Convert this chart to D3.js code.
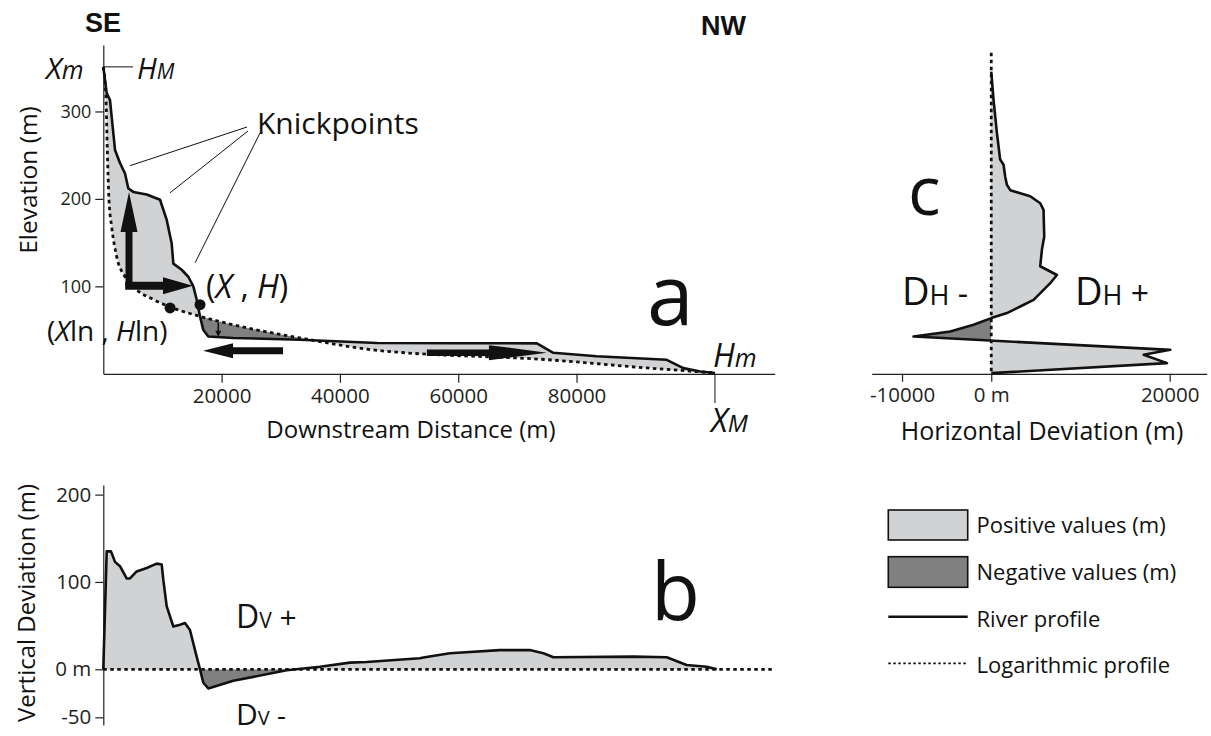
<!DOCTYPE html>
<html><head><meta charset="utf-8">
<script src="https://cdn.jsdelivr.net/npm/d3@7"></script>
<style>
html,body{margin:0;padding:0;background:#fff;}
svg{display:block;font-family:"Open Sans",sans-serif;}
</style></head><body>
<svg id="chart" width="1211" height="736"></svg>
<script>
// ---------------- DATA ----------------
// Panel a: river longitudinal profile (downstream distance m, elevation m)
const riverDist = [0,575,1130,1980,2820,3670,4230,5070,7340,9590,10720,11560,11840,13250,14370,15220,15780,16350,16910,17750,21980,33250,46250,60000,73300,76070,83400,95250,98050,100900,103400];
const riverElev = [351,321,313,256,241,229,212,208,205,199,176,149,126,119,111,100,85,65.5,50,42.6,41,39,35.3,35,34.8,24,20,16,6.5,2.7,1];
// Panel a: logarithmic (equilibrium) profile
const logDist = [0,460,680,960,1420,2260,3670,5640,8450,11270,16350,21980,33250,46750,50150,74950,91900,103400];
const logElev = [351,313,256,199,168,134,111,96,85,76.5,65.7,56,41,26.5,24.5,16.2,6.7,1];
// Panel b: vertical deviation (distance m, deviation m)
const vertDist = [0,575,1300,1980,2820,3950,4510,5640,7340,9020,9870,10150,10720,11840,12970,13810,14650,15780,16350,16910,17750,21980,31000,36630,41700,44500,53500,54350,58600,67000,72100,74400,76100,89600,95250,98600,102000,103700];
const vertDev  = [0,135,135,123,118,104,104,112,116,121,120,102,72,49,51,53,45,14.5,0,-14,-20,-12,-1,3,7.6,8.4,12.6,13.8,18.4,22,22,18.4,13.8,14.5,13.8,5,3,0];
// Panel c: horizontal deviation (deviation m, elevation m)
const horizDev  = [0,260,640,1000,1380,1570,1760,2130,3250,4370,5490,5860,5940,5680,5490,6240,7360,6610,4750,3250,1760,0,-1980,-4600,-8710,20070,17080,19700,0];
const horizElev = [345.5,313,275,245,239,225,216,210,206.5,203,195,187.5,157,142,123,119,113,103.6,84.6,77,69.4,63.7,56,48.3,42.6,27.4,21.7,12.2,0.8];
// Ticks
const elevTicks = [100,200,300];
const distTicks = [20000,40000,60000,80000];
const vertTicks = [-50,0,100,200];
const vertTickLabels = ["-50","0 m","100","200"];
const horizTicks = [-10000,0,20000];
const horizTickLabels = ["-10000","0 m","20000"];
const legendLabels = ["Positive values (m)","Negative values (m)","River profile","Logarithmic profile"];

// ---------------- SETUP ----------------
const LIGHT = "#d1d2d4", DARK = "#808080", INK = "#111";
const svg = d3.select("#chart");
const riverData = riverDist.map((d,i)=>[d, riverElev[i]]);
const logData = logDist.map((d,i)=>[d, logElev[i]]);
const vertData = vertDist.map((d,i)=>[d, vertDev[i]]);
const horizData = horizDev.map((d,i)=>[d, horizElev[i]]);

const xA = d3.scaleLinear().domain([0,113500]).range([103.3,774.7]);
const yA = d3.scaleLinear().domain([0,376]).range([373.8,45]);
const yB = d3.scaleLinear().domain([-58,0,211]).range([725,669.3,485]);
const xC = d3.scaleLinear().domain([-13400,24150]).range([871.7,1206.7]);

const defs = svg.append("defs");

function styleAxis(g, fs){
  g.attr("font-family", null).attr("font-size", null);
  g.selectAll("path.domain").attr("stroke", "#231f20").attr("stroke-width", 1.2);
  g.selectAll(".tick line").attr("stroke", "#231f20").attr("stroke-width", 1.2);
  g.selectAll(".tick text").attr("fill", "#231f20").style("font-size", fs+"px").style("font-family","'Open Sans',sans-serif");
}
function arrowPath(x1,y1,x2,y2,sw,hl,hw){
  const dx=x2-x1, dy=y2-y1, L=Math.hypot(dx,dy), ux=dx/L, uy=dy/L, px=-uy, py=ux;
  const bx=x2-ux*hl, by=y2-uy*hl;
  const p=[[x1+px*sw/2,y1+py*sw/2],[bx+px*sw/2,by+py*sw/2],[bx+px*hw/2,by+py*hw/2],[x2,y2],
           [bx-px*hw/2,by-py*hw/2],[bx-px*sw/2,by-py*sw/2],[x1-px*sw/2,y1-py*sw/2]];
  return "M"+p.map(q=>q.join(",")).join("L")+"Z";
}

// ---------------- PANEL A ----------------
const gA = svg.append("g");
const elevTop = 376;
defs.append("clipPath").attr("id","aboveLog").append("path")
  .attr("d", d3.area().x(d=>xA(d[0])).y0(yA(elevTop)).y1(d=>yA(d[1])).curve(d3.curveMonotoneX)(logData));
defs.append("clipPath").attr("id","aboveRiver").append("path")
  .attr("d", d3.area().x(d=>xA(d[0])).y0(yA(elevTop)).y1(d=>yA(d[1]))(riverData));
gA.append("path").attr("clip-path","url(#aboveLog)").attr("fill",LIGHT)
  .attr("d", d3.area().x(d=>xA(d[0])).y0(yA(0)).y1(d=>yA(d[1]))(riverData));
gA.append("path").attr("clip-path","url(#aboveRiver)").attr("fill",DARK)
  .attr("d", d3.area().x(d=>xA(d[0])).y0(yA(0)).y1(d=>yA(d[1])).curve(d3.curveMonotoneX)(logData));

// axes
const axA_y = gA.append("g").attr("transform",`translate(${xA(0)},0)`)
  .call(d3.axisLeft(yA).tickValues(elevTicks).tickSize(8).tickSizeOuter(0).tickPadding(4));
styleAxis(axA_y, 18);
const axA_x = gA.append("g").attr("transform",`translate(0,${yA(0)})`)
  .call(d3.axisBottom(xA).tickValues(distTicks).tickFormat(d3.format("d")).tickSize(9).tickSizeOuter(0).tickPadding(6));
styleAxis(axA_x, 20.5);

// profiles
gA.append("path").attr("fill","none").attr("stroke",INK).attr("stroke-width",2.8)
  .attr("stroke-dasharray","3.5,3.5")
  .attr("d", d3.line().x(d=>xA(d[0])).y(d=>yA(d[1])).curve(d3.curveMonotoneX)(logData));
gA.append("path").attr("fill","none").attr("stroke",INK).attr("stroke-width",2.6).attr("stroke-linejoin","round")
  .attr("d", d3.line().x(d=>xA(d[0])).y(d=>yA(d[1])).curve(d3.curveLinear)(riverData));

// arrows
const arrows = [
  {a:[4345,100], b:[4345,208], sw:7, hl:40, hw:17},
  {a:[3700,100.8], b:[15160,100.8], sw:8, hl:30, hw:17},
  {a:[19440,58.5], b:[19440,42.5], sw:1.6, hl:6, hw:6},
  {a:[30380,26.5], b:[16860,26.5], sw:7, hl:30, hw:15},
  {a:[54700,24.2], b:[75000,24.2], sw:6.5, hl:58, hw:15}
];
arrows.forEach(r=>{
  gA.append("path").attr("fill",INK)
    .attr("d", arrowPath(xA(r.a[0]),yA(r.a[1]),xA(r.b[0]),yA(r.b[1]),r.sw,r.hl,r.hw));
});
// points
[[16350,79],[11290,75.3]].forEach(p=>{
  gA.append("circle").attr("cx",xA(p[0])).attr("cy",yA(p[1])).attr("r",5.5).attr("fill",INK);
});
// knickpoint leader lines
const knick = [[4530,238],[11290,207],[15520,127]];
const knickFrom = [[247,127],[248,131],[260,133]];
knick.forEach((k,i)=>{
  gA.append("line").attr("x1",knickFrom[i][0]).attr("y1",knickFrom[i][1])
    .attr("x2",xA(k[0])).attr("y2",yA(k[1])).attr("stroke",INK).attr("stroke-width",1);
});
gA.append("text").attr("x",257).attr("y",133.5).style("font-size","30px").attr("fill",INK).text("Knickpoints");

// HM line and Xm/HM labels
gA.append("line").attr("x1",xA(0)).attr("x2",133).attr("y1",yA(351)).attr("y2",yA(351)).attr("stroke",INK).attr("stroke-width",1);
const tXm = gA.append("text").attr("x",46).attr("y",78.5).attr("fill",INK).style("font-style","italic");
tXm.append("tspan").style("font-size","30px").text("X");
tXm.append("tspan").style("font-size","25px").text("m");
const tHM = gA.append("text").attr("x",137).attr("y",79).attr("fill",INK).style("font-style","italic");
tHM.append("tspan").style("font-size","29px").text("H");
tHM.append("tspan").style("font-size","21px").text("M");
// XM vertical line & labels
gA.append("line").attr("x1",xA(103400)).attr("x2",xA(103400)).attr("y1",yA(0)).attr("y2",403).attr("stroke",INK).attr("stroke-width",1);
const tHm = gA.append("text").attr("x",713).attr("y",366.5).attr("fill",INK).style("font-style","italic");
tHm.append("tspan").style("font-size","32px").text("H");
tHm.append("tspan").style("font-size","25px").text("m");
const tXM = gA.append("text").attr("x",711).attr("y",431.5).attr("fill",INK).style("font-style","italic");
tXM.append("tspan").style("font-size","32px").text("X");
tXM.append("tspan").style("font-size","24px").text("M");
// (X , H)
const tXH = gA.append("text").attr("x",206).attr("y",298).attr("fill",INK).style("font-size","32px");
tXH.append("tspan").text("(");
tXH.append("tspan").style("font-style","italic").text("X");
tXH.append("tspan").text(" , ");
tXH.append("tspan").style("font-style","italic").text("H");
tXH.append("tspan").text(")");
const tXl = gA.append("text").attr("x",47).attr("y",341).attr("fill",INK).style("font-size","28px");
tXl.append("tspan").text("(");
tXl.append("tspan").style("font-style","italic").text("X");
tXl.append("tspan").text("ln , ");
tXl.append("tspan").style("font-style","italic").text("H");
tXl.append("tspan").text("ln)");
// SE / NW
svg.append("text").attr("x",85).attr("y",32).style("font-family","'Liberation Sans',Arial,sans-serif")
  .style("font-weight","bold").style("font-size","27px").attr("fill",INK).text("SE");
svg.append("text").attr("x",701).attr("y",35).style("font-family","'Liberation Sans',Arial,sans-serif")
  .style("font-weight","bold").style("font-size","27px").attr("fill",INK).text("NW");
// panel letter & titles
gA.append("text").attr("x",647).attr("y",325).style("font-size","84px").attr("fill",INK).text("a");
gA.append("text").attr("x",411).attr("y",438).attr("text-anchor","middle").style("font-size","24px").attr("fill",INK).text("Downstream Distance (m)");
gA.append("text").attr("transform","translate(37,180) rotate(-90)").attr("text-anchor","middle").style("font-size","24.5px").attr("fill",INK).text("Elevation (m)");

// ---------------- PANEL B ----------------
const gB = svg.append("g");
defs.append("clipPath").attr("id","posB").append("rect")
  .attr("x",0).attr("y",0).attr("width",1211).attr("height",yB(0));
defs.append("clipPath").attr("id","negB").append("rect")
  .attr("x",0).attr("y",yB(0)).attr("width",1211).attr("height",736-yB(0));
const areaB = d3.area().x(d=>xA(d[0])).y0(yB(0)).y1(d=>yB(d[1]));
gB.append("path").attr("clip-path","url(#posB)").attr("fill",LIGHT).attr("d",areaB(vertData));
gB.append("path").attr("clip-path","url(#negB)").attr("fill",DARK).attr("d",areaB(vertData));
const axB = gB.append("g").attr("transform",`translate(${xA(0)},0)`)
  .call(d3.axisLeft(yB).tickValues(vertTicks).tickFormat((d,i)=>vertTickLabels[i]).tickSize(8).tickSizeOuter(0).tickPadding(4));
styleAxis(axB, 20.5);
gB.append("line").attr("x1",xA(0)).attr("x2",xA(113500)).attr("y1",yB(0)).attr("y2",yB(0))
  .attr("stroke",INK).attr("stroke-width",2.8).attr("stroke-dasharray","3.5,3.5");
gB.append("path").attr("fill","none").attr("stroke",INK).attr("stroke-width",2.6).attr("stroke-linejoin","round")
  .attr("d", d3.line().x(d=>xA(d[0])).y(d=>yB(d[1]))(vertData));
const tDvp = gB.append("text").attr("x",236).attr("y",628).attr("fill",INK);
tDvp.append("tspan").style("font-size","32px").text("D");
tDvp.append("tspan").style("font-size","21px").text("V");
tDvp.append("tspan").style("font-size","30px").text(" +");
const tDvm = gB.append("text").attr("x",236).attr("y",725).attr("fill",INK);
tDvm.append("tspan").style("font-size","30px").text("D");
tDvm.append("tspan").style("font-size","20px").text("V");
tDvm.append("tspan").style("font-size","28px").text(" -");
gB.append("text").attr("x",651).attr("y",620).style("font-size","80px").attr("fill",INK).text("b");
gB.append("text").attr("transform","translate(35,603) rotate(-90)").attr("text-anchor","middle").style("font-size","24px").attr("fill",INK).text("Vertical Deviation (m)");

// ---------------- PANEL C ----------------
const gC = svg.append("g");
defs.append("clipPath").attr("id","posC").append("rect")
  .attr("x",xC(0)).attr("y",0).attr("width",1211-xC(0)).attr("height",736);
defs.append("clipPath").attr("id","negC").append("rect")
  .attr("x",0).attr("y",0).attr("width",xC(0)).attr("height",736);
const areaC = d3.area().y(d=>yA(d[1])).x0(xC(0)).x1(d=>xC(d[0]));
gC.append("path").attr("clip-path","url(#posC)").attr("fill",LIGHT).attr("d",areaC(horizData));
gC.append("path").attr("clip-path","url(#negC)").attr("fill",DARK).attr("d",areaC(horizData));
const axC = gC.append("g").attr("transform",`translate(0,${yA(0)})`)
  .call(d3.axisBottom(xC).tickValues(horizTicks).tickFormat((d,i)=>horizTickLabels[i]).tickSize(8).tickSizeOuter(0).tickPadding(6));
styleAxis(axC, 20.5);
gC.append("line").attr("x1",xC(0)).attr("x2",xC(0)).attr("y1",yA(367)).attr("y2",yA(0))
  .attr("stroke",INK).attr("stroke-width",2.8).attr("stroke-dasharray","3.5,3.5");
gC.append("path").attr("fill","none").attr("stroke",INK).attr("stroke-width",2.6).attr("stroke-linejoin","round")
  .attr("d", d3.line().x(d=>xC(d[0])).y(d=>yA(d[1]))(horizData));
gC.append("text").attr("x",908).attr("y",215).style("font-size","68px").attr("fill",INK).text("c");
const tDhm = gC.append("text").attr("x",902).attr("y",305).attr("fill",INK);
tDhm.append("tspan").style("font-size","38px").text("D");
tDhm.append("tspan").style("font-size","27px").text("H");
tDhm.append("tspan").style("font-size","32px").text(" -");
const tDhp = gC.append("text").attr("x",1075).attr("y",305).attr("fill",INK);
tDhp.append("tspan").style("font-size","38px").text("D");
tDhp.append("tspan").style("font-size","27px").text("H");
tDhp.append("tspan").style("font-size","32px").text(" +");
gC.append("text").attr("x",1042).attr("y",440).attr("text-anchor","middle").style("font-size","25px").attr("fill",INK).text("Horizontal Deviation (m)");

// ---------------- LEGEND ----------------
const gL = svg.append("g");
const lx0 = 888.3, lx1 = 967.7, tx = 976.5;
gL.append("rect").attr("x",lx0).attr("y",510).attr("width",lx1-lx0).attr("height",30).attr("fill",LIGHT).attr("stroke",INK).attr("stroke-width",1.6);
gL.append("rect").attr("x",lx0).attr("y",556.7).attr("width",lx1-lx0).attr("height",30.6).attr("fill",DARK).attr("stroke",INK).attr("stroke-width",1.6);
gL.append("line").attr("x1",lx0).attr("x2",lx1).attr("y1",616.7).attr("y2",616.7).attr("stroke",INK).attr("stroke-width",2.4);
gL.append("line").attr("x1",lx0).attr("x2",lx1).attr("y1",663.3).attr("y2",663.3).attr("stroke",INK).attr("stroke-width",1.8).attr("stroke-dasharray","2.5,2.5");
const lBase = [533,580,627,673];
legendLabels.forEach((t,i)=>{
  gL.append("text").attr("x",tx).attr("y",lBase[i]).style("font-size","22px").attr("fill",INK).text(t);
});
</script>
</body></html>
